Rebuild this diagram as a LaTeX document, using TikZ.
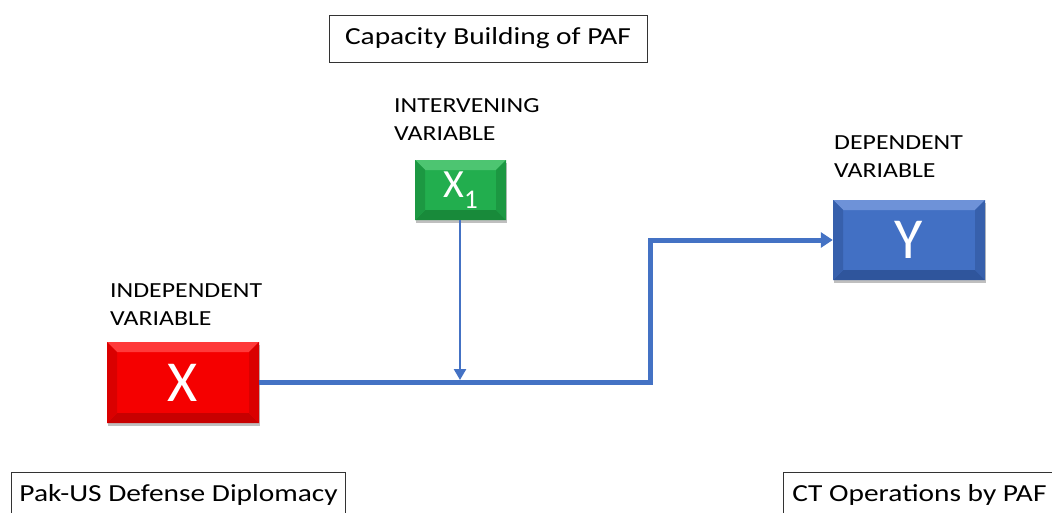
\documentclass[tikz,border=0pt]{standalone}
\usepackage{fontspec}
\setmainfont{Carlito}[FakeStretch=1.2]
\newfontfamily\plainfont{Carlito}
\usetikzlibrary{arrows.meta,shadows}
\definecolor{lineblue}{HTML}{4472C4}
\definecolor{redmain}{HTML}{F50000}
\definecolor{redlight}{HTML}{FF3A3A}
\definecolor{reddark}{HTML}{C80000}
\definecolor{greenmain}{HTML}{22AE4E}
\definecolor{greenlight}{HTML}{4DC571}
\definecolor{greendark}{HTML}{188A3A}
\definecolor{bluemain}{HTML}{4270C4}
\definecolor{bluelight}{HTML}{6E92D8}
\definecolor{bluedark}{HTML}{2F559C}
\tikzset{
  bevelbox/.style n args={3}{draw=none, fill=#1, text=white, inner sep=0pt,
    drop shadow={shadow xshift=1pt, shadow yshift=-3pt, opacity=0.25, fill=black},
    path picture={
      \coordinate (nw) at (path picture bounding box.north west);
      \coordinate (ne) at (path picture bounding box.north east);
      \coordinate (sw) at (path picture bounding box.south west);
      \coordinate (se) at (path picture bounding box.south east);
      \fill[#2] (nw) -- (ne) -- ([shift={(-10pt,-10pt)}]ne) -- ([shift={(10pt,-10pt)}]nw) -- cycle;
      \fill[#3] (sw) -- (se) -- ([shift={(-10pt,10pt)}]se) -- ([shift={(10pt,10pt)}]sw) -- cycle;
      \fill[#3!60!#1] (nw) -- (sw) -- ([shift={(10pt,10pt)}]sw) -- ([shift={(10pt,-10pt)}]nw) -- cycle;
      \fill[#3!60!#1] (ne) -- (se) -- ([shift={(-10pt,10pt)}]se) -- ([shift={(-10pt,-10pt)}]ne) -- cycle;
    }},
  labeltext/.style={anchor=base west, inner sep=0pt, align=left, font=\fontsize{21.5}{28}\selectfont},
  framed/.style={draw=black!80, line width=0.9pt, font=\fontsize{24.5}{29}\selectfont, inner xsep=8pt},
  mainline/.style={draw=lineblue, line width=5pt, line join=miter},
  thinarrow/.style={draw=lineblue, line width=2.5pt, -{Triangle[width=12pt,length=11pt]}},
}
\begin{document}
\begin{tikzpicture}[x=1pt,y=-1pt]
\clip (0,0) rectangle (1052,512);
\fill[white] (0,0) rectangle (1052,512);

\node[framed, minimum width=318pt, minimum height=47pt] (cap) at (488,38.5) {Capacity Building of PAF};

\node[framed, anchor=north west, inner ysep=6pt, text height=23pt, text depth=40pt] (pak) at (11,472) {Pak-US Defense Diplomacy};
\node[framed, anchor=north west, inner ysep=6pt, inner xsep=9pt, text height=23pt, text depth=40pt] (ct) at (783,472) {\makebox[290pt][l]{CT Operations by PAF}};

\node[labeltext] (lint) at (394,112) {INTERVENING};
\node[labeltext] (lint2) at (394,140) {VARIABLE};
\node[labeltext] (lind) at (110,297) {INDEPENDENT};
\node[labeltext] (lind2) at (110,325) {VARIABLE};
\node[labeltext] (ldep) at (834,149) {DEPENDENT};
\node[labeltext] (ldep2) at (834,177) {VARIABLE};

\node[bevelbox={redmain}{redlight}{reddark}, minimum width=152pt, minimum height=81pt, font=\plainfont\fontsize{58}{58}\selectfont] (X) at (183,382.5) {X};
\node[bevelbox={greenmain}{greenlight}{greendark}, minimum width=91pt, minimum height=60pt, font=\plainfont\fontsize{40}{40}\selectfont] (X1) at (460.5,190) {X\raisebox{-0.28em}{\fontsize{27}{27}\selectfont 1}};
\node[bevelbox={bluemain}{bluelight}{bluedark}, minimum width=152pt, minimum height=80pt, font=\plainfont\fontsize{58}{58}\selectfont] (Y) at (909,240) {Y};

\coordinate (turn) at (650,382.5);
\coordinate (join) at (460,380);
\draw[mainline, -{Triangle[width=15pt,length=12pt]}] (X.east) -- (turn) |- (Y.west);
\draw[thinarrow] (X1.south -| join) -- (join);
\end{tikzpicture}
\end{document}
